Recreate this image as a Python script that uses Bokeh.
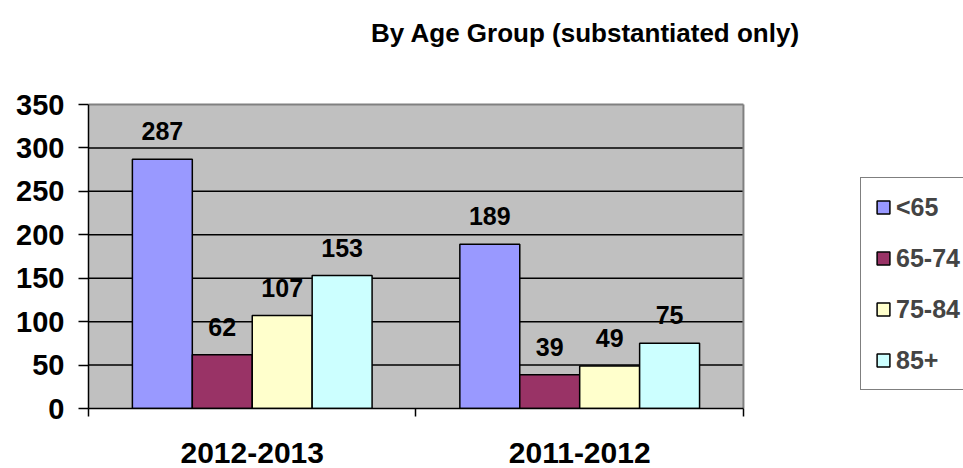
from bokeh.plotting import figure
from bokeh.models import (ColumnDataSource, FixedTicker, Label, LabelSet,
                          Legend, LegendItem, Range1d)
from bokeh.core.properties import value
from bokeh.transform import dodge
from bokeh.embed import file_html
from bokeh.resources import INLINE

# Substantiated cases by age group, per reporting year
periods = ["2012-2013", "2011-2012"]
age_groups = ["<65", "65-74", "75-84", "85+"]
under_65 = [287, 189]
age_65_74 = [62, 39]
age_75_84 = [107, 49]
age_85_plus = [153, 75]
y_ticks = [0, 50, 100, 150, 200, 250, 300, 350]
y_max = 350

series = [under_65, age_65_74, age_75_84, age_85_plus]
colors = ["#9999FF", "#993366", "#FFFFCC", "#CCFFFF"]

FONT = "Liberation Sans"
BAR_W = 0.183
n = len(periods)

# category centres on a numeric axis so ticks can sit on the boundaries
centers = [i + 0.5 for i in range(n)]

# The frame fills the canvas above the x axis and to the right edge, so the
# title and legend can live inside it; the grey plot area is 304 px tall
# within a 408 px frame.
y_top = y_max * 408 / 304
p = figure(width=963, height=468, output_backend="svg", toolbar_location=None,
           x_range=Range1d(0, 2.672), y_range=Range1d(0, y_top),
           min_border_left=88, min_border_right=0, min_border_top=0,
           min_border_bottom=60)
p.background_fill_color = "white"
p.border_fill_color = "white"
p.outline_line_color = None

p.add_layout(Label(x=497, y=376, x_units="screen", y_units="screen",
                   text="By Age Group (substantiated only)",
                   text_align="center", text_baseline="alphabetic",
                   text_font=FONT, text_font_size="26px",
                   text_font_style="bold", text_color="black"))

# grey plot area with gridlines, drawn behind the bars
p.quad(left=[0], right=[n], bottom=[0], top=[y_max],
       fill_color="#C0C0C0", line_color=None)
grid_vals = [t for t in y_ticks if 0 < t < y_max]
p.segment(x0=[0] * len(grid_vals), x1=[n] * len(grid_vals),
          y0=grid_vals, y1=grid_vals, line_color="black", line_width=1.5)
p.segment(x0=[0, n], x1=[n, n], y0=[y_max, 0], y1=[y_max, y_max],
          line_color="#808080", line_width=2)

items = []
for j, (name, vals, col) in enumerate(zip(age_groups, series, colors)):
    src = ColumnDataSource(dict(x=centers, y=vals, txt=[str(v) for v in vals]))
    off = (j - 1.5) * BAR_W
    r = p.vbar(x=dodge("x", off, range=p.x_range), top="y", width=BAR_W,
               source=src, fill_color=col, line_color="black", line_width=1.5)
    items.append(LegendItem(label=name, renderers=[r]))
    labels = LabelSet(x=dodge("x", off, range=p.x_range), y="y", text="txt",
                      source=src, y_offset=19, text_align="center",
                      text_baseline="alphabetic", text_font=value(FONT),
                      text_font_size="25px", text_font_style="bold",
                      text_color="black")
    p.add_layout(labels)

legend = Legend(items=items, location=(772, 18), orientation="vertical",
                label_text_font=FONT, label_text_font_size="25px",
                label_text_font_style="bold", label_height=30,
                glyph_height=16, glyph_width=16, spacing=21, padding=14,
                margin=0, label_standoff=5, border_line_color="black",
                border_line_width=1.5, background_fill_color="white",
                background_fill_alpha=1.0)
p.add_layout(legend, "center")

# y axis
p.yaxis.ticker = FixedTicker(ticks=y_ticks)
p.yaxis.bounds = (0, y_max)
p.yaxis.axis_line_color = "black"
p.yaxis.axis_line_width = 1.5
p.yaxis.major_tick_line_color = "black"
p.yaxis.major_tick_line_width = 1.5
p.yaxis.major_tick_out = 10
p.yaxis.major_tick_in = 0
p.yaxis.minor_tick_line_color = None
p.yaxis.major_label_standoff = 14
p.yaxis.major_label_text_font = FONT
p.yaxis.major_label_text_font_size = "29px"
p.yaxis.major_label_text_font_style = "bold"
p.yaxis.major_label_text_color = "black"

# x axis: labels at the centres, tick marks on the category boundaries
p.xaxis.ticker = FixedTicker(ticks=centers, minor_ticks=list(range(n + 1)))
p.xaxis.bounds = (0, n)
p.xaxis.major_label_overrides = {c: name for c, name in zip(centers, periods)}
p.xaxis.axis_line_color = "black"
p.xaxis.axis_line_width = 1.5
p.xaxis.major_tick_line_color = None
p.xaxis.major_tick_out = 0
p.xaxis.major_tick_in = 0
p.xaxis.minor_tick_line_color = "black"
p.xaxis.minor_tick_line_width = 1.5
p.xaxis.minor_tick_out = 8
p.xaxis.minor_tick_in = 0
p.xaxis.major_label_standoff = 26
p.xaxis.major_label_text_font = FONT
p.xaxis.major_label_text_font_size = "30px"
p.xaxis.major_label_text_font_style = "bold"
p.xaxis.major_label_text_color = "black"

p.xgrid.visible = False
p.ygrid.visible = False

open("out.html", "w").write(file_html(p, INLINE))
